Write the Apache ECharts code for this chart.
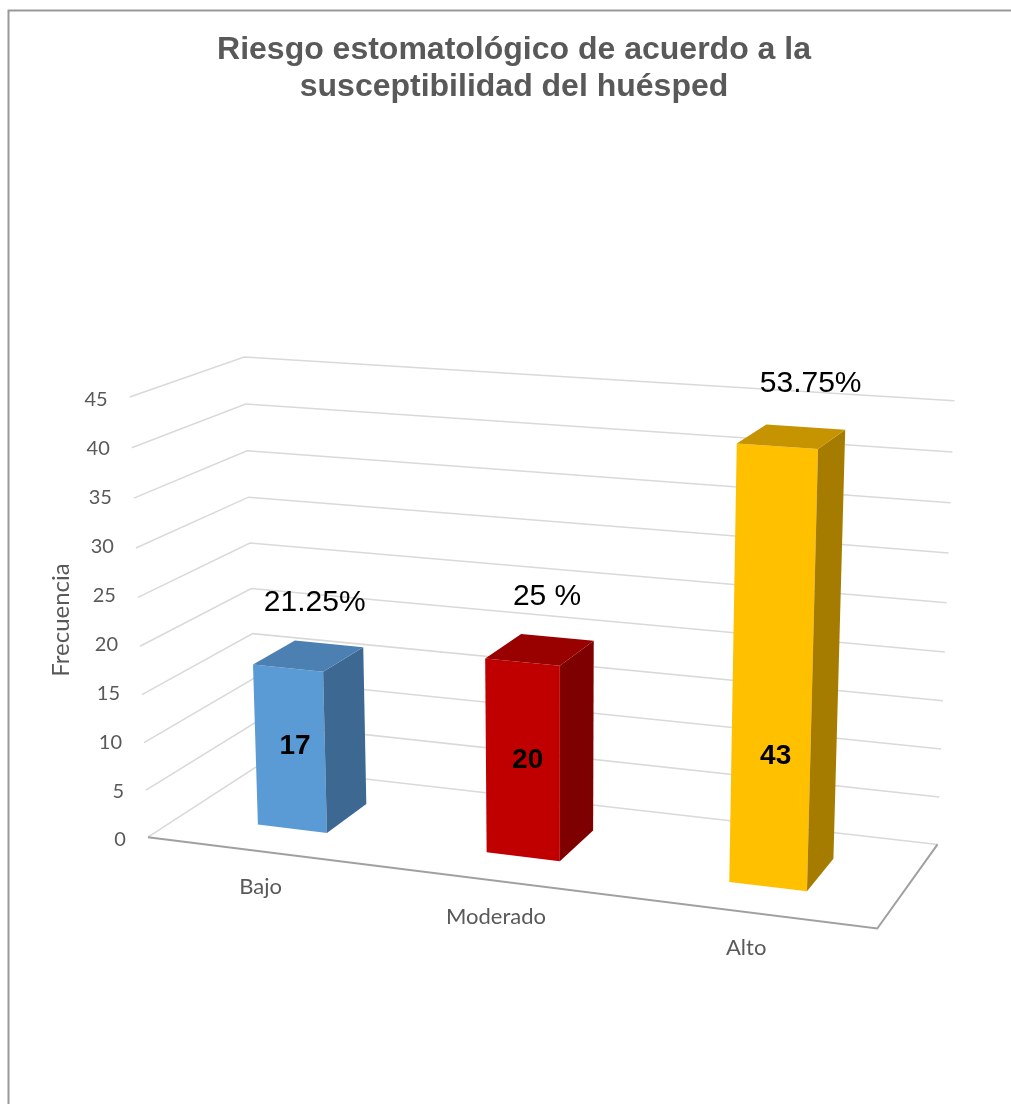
<!DOCTYPE html>
<html><head><meta charset="utf-8">
<script src="https://cdn.jsdelivr.net/npm/echarts@6/dist/echarts.min.js"></script>
<style>html,body{margin:0;padding:0;background:#fff}#c{width:1011px;height:1104px}</style>
</head><body><div id="c"></div>
<script>
// ---- data ----
const categories = ['Bajo', 'Moderado', 'Alto'];
const frequencies = [17, 20, 43];
const percentLabels = ['21.25%', '25 %', '53.75%'];
const yTicks = [0, 5, 10, 15, 20, 25, 30, 35, 40, 45];
const Y_MAX = 45;

// ---- style ----
const faceColors = [
  { front: '#5B9BD5', side: '#3C6891', top: '#4C80B2' },
  { front: '#C00000', side: '#7E0000', top: '#990000' },
  { front: '#FFC000', side: '#A67C00', top: '#C69400' }
];

// ---- camera calibration (world X in category units, Y in value units, Z depth 0 front..1 back) ----
const calib = [
  [0, 0, 0, 147.3, 837.3], [0, 45, 0, 130.7, 396.7], [0, 40, 0, 132.3, 447.7], [0, 5, 0, 145, 791],
  [0, 0, 1, 258.3, 765.6], [0, 45, 1, 243.3, 357.3], [0, 40, 1, 245, 404],
  [3, 0, 1, 936.7, 845], [3, 45, 1, 954.3, 400.7], [3, 40, 1, 952.7, 451.7], [3, 5, 1, 940, 797.3],
  [3, 0, 0, 877.3, 927.7]
];
function solveDLT(pts) {
  const A = [], b = [];
  pts.forEach(([X0, Y0, Z0, u0, v0]) => {
    const X = X0 / 3, Y = Y0 / 45, Z = Z0, u = (u0 - 500) / 500, v = (v0 - 600) / 500;
    A.push([X, Y, Z, 1, 0, 0, 0, 0, -u * X, -u * Y, -u * Z]); b.push(u);
    A.push([0, 0, 0, 0, X, Y, Z, 1, -v * X, -v * Y, -v * Z]); b.push(v);
  });
  const n = 11, M = [];
  for (let i = 0; i < n; i++) { M.push(new Array(n + 1).fill(0)); }
  for (let r = 0; r < A.length; r++) for (let i = 0; i < n; i++) {
    for (let j = 0; j < n; j++) M[i][j] += A[r][i] * A[r][j];
    M[i][n] += A[r][i] * b[r];
  }
  for (let c = 0; c < n; c++) {
    let piv = c;
    for (let r = c + 1; r < n; r++) if (Math.abs(M[r][c]) > Math.abs(M[piv][c])) piv = r;
    [M[c], M[piv]] = [M[piv], M[c]];
    for (let r = 0; r < n; r++) if (r !== c) {
      const f = M[r][c] / M[c][c];
      for (let k = c; k <= n; k++) M[r][k] -= f * M[c][k];
    }
  }
  return M.map((row, i) => row[n] / row[i]);
}
const P = solveDLT(calib);
function proj(X, Y, Z) {
  const x = X / 3, y = Y / 45, z = Z;
  const w = P[8] * x + P[9] * y + P[10] * z + 1;
  return [(P[0] * x + P[1] * y + P[2] * z + P[3]) / w * 500 + 500,
          (P[4] * x + P[5] * y + P[6] * z + P[7]) / w * 500 + 600];
}

// ---- bar geometry (category units / depth units) and label placement ----
const BAR_HALF = 0.154, BAR_Z0 = 0.295, BAR_Z1 = 0.69;
const INSIDE_LABEL_FRAC = [0.52, 0.5, 0.305];
const PCT_LABEL_DX = [6, 7, 19];
const TICK_LABEL_GAP = 22;

const chart = echarts.init(document.getElementById('c'));
const GRID = { left: 138, top: 400, height: 440, width: 800 };
const edge0 = proj(0, 0, 0)[0];
const tickRich = {};
yTicks.forEach(t => { tickRich['t' + t] = { padding: [0, Math.max(0, edge0 - proj(0, t, 0)[0]), 0, 0] }; });

function worldFromCoord(params, api, i, v) {
  const cs = params.coordSys;
  const c = api.coord([i, v]);
  const band = api.size([1, 0])[0];
  return [(c[0] - cs.x) / band, (cs.y + cs.height - c[1]) / cs.height * Y_MAX];
}

function renderGrid(params, api) {
  const t = api.value(1);
  const [, Y] = worldFromCoord(params, api, 0, t);
  const children = [
    { type: 'polyline', shape: { points: [proj(0, Y, 0), proj(0, Y, 1), proj(3, Y, 1)] },
      style: { stroke: '#D9D9D9', lineWidth: 1.5, fill: null } }
  ];
  if (t === 0) {
    children.push({ type: 'polyline', shape: { points: [proj(0, 0, 0), proj(3, 0, 0), proj(3, 0, 1)] },
      style: { stroke: '#A0A0A0', lineWidth: 2, fill: null } });
  }
  return { type: 'group', children };
}

function renderBar(params, api) {
  const i = api.value(0), v = api.value(1);
  const [Xc, Y] = worldFromCoord(params, api, i, v);
  const xl = Xc - BAR_HALF, xr = Xc + BAR_HALF;
  const FBL = proj(xl, 0, BAR_Z0), FBR = proj(xr, 0, BAR_Z0), FTL = proj(xl, Y, BAR_Z0), FTR = proj(xr, Y, BAR_Z0);
  const BTL = proj(xl, Y, BAR_Z1), BTR = proj(xr, Y, BAR_Z1), BBR = proj(xr, 0, BAR_Z1);
  const col = faceColors[i];
  const inside = proj(Xc, Y * INSIDE_LABEL_FRAC[i], BAR_Z0);
  const top = proj(Xc, Y, (BAR_Z0 + BAR_Z1) / 2);
  return { type: 'group', children: [
    { type: 'polygon', shape: { points: [FBL, FBR, FTR, FTL] }, style: { fill: col.front } },
    { type: 'polygon', shape: { points: [FBR, BBR, BTR, FTR] }, style: { fill: col.side } },
    { type: 'polygon', shape: { points: [FTL, FTR, BTR, BTL] }, style: { fill: col.top } },
    { type: 'text', x: inside[0] + 5, y: inside[1], style: { text: String(v), fill: '#000',
      font: 'bold 28px "Liberation Sans", Arial, sans-serif', align: 'center', verticalAlign: 'middle' } },
    { type: 'text', x: top[0] + PCT_LABEL_DX[i], y: top[1] - 53, style: { text: percentLabels[i], fill: '#000',
      font: '30px "Liberation Sans", Arial, sans-serif', align: 'center', verticalAlign: 'middle' } }
  ] };
}

function renderCat(params, api) {
  const i = api.value(0);
  const [Xc] = worldFromCoord(params, api, i, 0);
  const p = proj(Xc, 0, 0);
  return { type: 'text', x: p[0], y: p[1] + 36, style: { text: categories[i], fill: '#595959',
    font: '22px Lato, "Open Sans", sans-serif', align: 'center', verticalAlign: 'middle' } };
}

chart.setOption({
  animation: false,
  title: {
    text: 'Riesgo estomatológico de acuerdo a la\nsusceptibilidad del huésped',
    left: 514, top: 32, textAlign: 'center', padding: 0,
    textStyle: { fontFamily: '"Liberation Sans", Arial, sans-serif', fontSize: 32, fontWeight: 'bold', color: '#595959', lineHeight: 37 }
  },
  graphic: [
    { type: 'rect', shape: { x: 8.5, y: 10.5, width: 1100, height: 1200 }, style: { fill: null, stroke: '#999', lineWidth: 2 }, silent: true }
  ],
  grid: GRID,
  xAxis: { type: 'category', data: categories, show: false },
  yAxis: {
    type: 'value', min: 0, max: Y_MAX, interval: 5,
    axisLine: { show: false }, axisTick: { show: false }, splitLine: { show: false },
    axisLabel: {
      color: '#595959', fontSize: 20, fontFamily: 'Lato, "Open Sans", sans-serif',
      margin: GRID.left - (edge0 - TICK_LABEL_GAP),
      formatter: val => '{t' + val + '|' + val + '}',
      rich: tickRich
    },
    name: 'Frecuencia', nameLocation: 'middle', nameRotate: 90, nameGap: 64,
    nameTextStyle: { color: '#595959', fontSize: 24, fontFamily: 'Lato, "Open Sans", sans-serif' }
  },
  series: [
    { type: 'custom', silent: true, clip: false, z: 1, renderItem: renderGrid, data: yTicks.map(t => [0, t]) },
    { type: 'custom', silent: true, clip: false, z: 2, renderItem: renderBar, data: frequencies.map((v, i) => [i, v]) },
    { type: 'custom', silent: true, clip: false, z: 3, renderItem: renderCat, data: categories.map((c, i) => [i, 0]) }
  ]
});
</script></body></html>
